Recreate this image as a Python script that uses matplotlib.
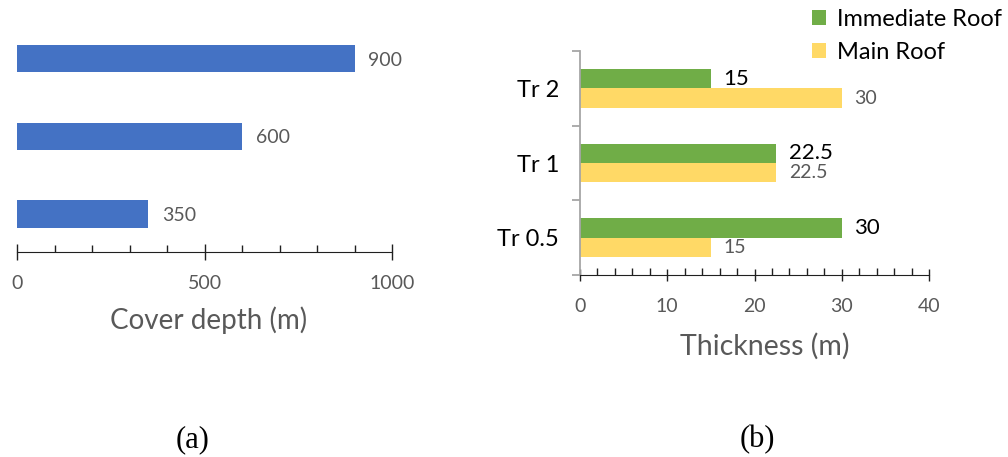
import numpy as np
import matplotlib.pyplot as plt
from matplotlib.ticker import MultipleLocator, FixedLocator

plt.rcParams['font.family'] = ['Lato', 'DejaVu Sans']

# (a) cover depth
depth_vals = [350, 600, 900]

# (b) roof thickness per case
cases = ['Tr 0.5', 'Tr 1', 'Tr 2']
immediate_roof = [30, 22.5, 15]
main_roof = [15, 22.5, 30]

W, H = 1008, 457
fig = plt.figure(figsize=(W / 100, H / 100), dpi=100)

GREY = '#595959'

# ---- panel (a)
axa = fig.add_axes([17 / W, 205 / H, 375 / W, 232 / H])
ya = np.arange(len(depth_vals))
bars = axa.barh(ya, depth_vals, height=0.35, color='#4472C4')
for y, v in zip(ya, depth_vals):
    axa.annotate(f'{v}', (v, y), xytext=(10, -1), textcoords='offset points',
                 va='center', ha='left', fontsize=14, color=GREY)
axa.set_xlim(0, 1000)
axa.set_ylim(-0.49, 2.5)
axa.set_yticks([])
for s in ['top', 'right', 'left']:
    axa.spines[s].set_visible(False)
axa.spines['bottom'].set_color('#202020')
axa.xaxis.set_major_locator(MultipleLocator(500))
axa.xaxis.set_minor_locator(MultipleLocator(100))
axa.tick_params(axis='x', which='major', direction='inout', length=11, width=1,
                color='#202020', labelsize=14, labelcolor=GREY, pad=11)
axa.tick_params(axis='x', which='minor', direction='in', length=5, width=1,
                color='#202020')
axa.set_xlabel('Cover depth (m)', fontsize=20, color=GREY)
axa.xaxis.set_label_coords(0.51, -0.235)

# ---- panel (b)
axb = fig.add_axes([580 / W, 182 / H, 349 / W, 224 / H])
yb = np.arange(len(cases))
bh = 0.26
axb.barh(yb + bh / 2, immediate_roof, height=bh, color='#70AD47',
         label='Immediate Roof')
axb.barh(yb - bh / 2, main_roof, height=bh, color='#FFD966', label='Main Roof')
for y, v in zip(yb, immediate_roof):
    axb.annotate(f'{v:g}', (v, y + bh / 2), xytext=(9, 0), textcoords='offset points',
                 va='center', ha='left', fontsize=16, color='black')
for y, v in zip(yb, main_roof):
    axb.annotate(f'{v:g}', (v, y - bh / 2), xytext=(9, 0), textcoords='offset points',
                 va='center', ha='left', fontsize=14, color=GREY)
axb.set_xlim(0, 40)
axb.set_ylim(-0.5, 2.5)
for s in ['top', 'right']:
    axb.spines[s].set_visible(False)
axb.spines['left'].set_color('#A6A6A6')
axb.spines['left'].set_linewidth(1.3)
axb.spines['bottom'].set_color('#202020')
axb.xaxis.set_major_locator(MultipleLocator(10))
axb.xaxis.set_minor_locator(MultipleLocator(2))
axb.tick_params(axis='x', which='major', direction='inout', length=9, width=1,
                color='#202020', labelsize=14, labelcolor=GREY, pad=12)
axb.tick_params(axis='x', which='minor', direction='in', length=5, width=1,
                color='#202020')
axb.set_yticks(yb)
axb.set_yticklabels(cases)
axb.yaxis.set_minor_locator(FixedLocator([-0.5, 0.5, 1.5, 2.5]))
axb.tick_params(axis='y', which='major', length=0, labelsize=17, pad=15)
axb.tick_params(axis='y', which='minor', direction='out', length=6, width=1.3,
                color='#A6A6A6')
axb.set_xlabel('Thickness (m)', fontsize=20.5, color=GREY)
axb.xaxis.set_label_coords(0.53, -0.26)

fig.legend(loc='upper left', bbox_to_anchor=(812 / W, 1 - 9 / H), frameon=False,
           fontsize=17, handlelength=0.6, handleheight=0.6, handletextpad=0.45,
           labelspacing=0.5, borderaxespad=0, borderpad=0)

# captions
fig.text(193 / W, 1 - 440 / H, '(a)', ha='center', va='center', fontsize=22,
         family='Liberation Serif')
fig.text(757 / W, 1 - 440 / H, '(b)', ha='center', va='center', fontsize=22,
         family='Liberation Serif')

fig.savefig('out.png', dpi=100)
